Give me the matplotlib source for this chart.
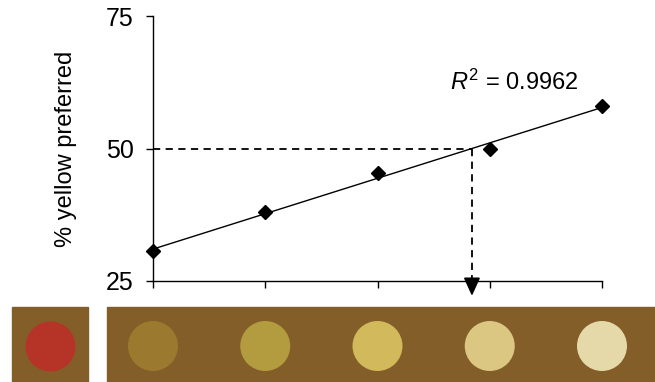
import matplotlib
matplotlib.use('Agg')
import matplotlib.pyplot as plt
import matplotlib.transforms as mtransforms
from matplotlib.patches import Rectangle
import numpy as np

plt.rcParams['font.family'] = ['Liberation Sans', 'DejaVu Sans']
plt.rcParams['mathtext.fontset'] = 'custom'
plt.rcParams['mathtext.rm'] = 'Liberation Sans'
plt.rcParams['mathtext.it'] = 'Liberation Sans:italic'

# data
x_pos = [1, 2, 3, 4, 5]
pct_yellow = [30.6, 38.0, 45.3, 50.0, 58.0]
y_ticks = [25, 50, 75]
target = 50
r2_label = r'$R^{2}$ = 0.9962'
reference_color = '#b53427'
swatch_colors = ['#9b7a30', '#b39b3f', '#d2b95b', '#dbc781', '#e5d8a9']
strip_color = '#845e28'

W, H = 655, 382
fig = plt.figure(figsize=(W / 100, H / 100), dpi=100)
ax = fig.add_axes([153 / W, 1 - 281 / H, (602 - 153) / W, (281 - 16) / H])

slope, intercept = np.polyfit(x_pos, pct_yellow, 1)
fit_x = np.array([x_pos[0], x_pos[-1]])
ax.plot(fit_x, slope * fit_x + intercept, color='black', lw=1.0, zorder=2)
ax.plot(x_pos, pct_yellow, 'D', color='black', ms=7.5, clip_on=False, zorder=3)

# dashed guide to the matching colour
x_cross = (target - intercept) / slope
ax.plot([x_pos[0], x_cross], [target, target], color='black', lw=1.3, ls=(0, (4, 3)), zorder=1)
ax.plot([x_cross, x_cross], [target, 26.5], color='black', lw=1.3, ls=(0, (4, 3)), clip_on=False, zorder=1)
ax.annotate('', xy=(x_cross, 22.2), xytext=(x_cross, 26.0), annotation_clip=False,
            arrowprops=dict(arrowstyle='-|>,head_length=1.1,head_width=0.5', color='black', lw=1.3,
                            shrinkA=0, shrinkB=0))

ax.set_xlim(1, 5)
ax.set_ylim(25, 75)
ax.set_xticks(x_pos)
ax.set_xticklabels([])
ax.set_yticks(y_ticks)
ax.tick_params(axis='y', length=5, width=1, pad=9, labelsize=18)
ax.tick_params(axis='x', length=5, width=1)
for side in ['top', 'right']:
    ax.spines[side].set_visible(False)
for side in ['left', 'bottom']:
    ax.spines[side].set_linewidth(1.0)
ax.set_ylabel('% yellow preferred', fontsize=17, labelpad=21)
ax.text(3.65, 62.5, r2_label, fontsize=17, ha='left', va='center')

# colour strip underneath
fig.patches.append(Rectangle((12 / W, 0), (88 - 12) / W, (H - 307) / H,
                             transform=fig.transFigure, color=strip_color, zorder=-1))
fig.patches.append(Rectangle((107 / W, 0), (W - 107) / W, (H - 307) / H,
                             transform=fig.transFigure, color=strip_color, zorder=-1))
strip_y = 1 - 346 / H
trans = mtransforms.blended_transform_factory(ax.transData, fig.transFigure)
ax.scatter(x_pos, [strip_y] * len(x_pos), s=36 ** 2, c=swatch_colors, transform=trans,
           clip_on=False, linewidths=0, zorder=5)
ax.scatter([50 / W], [strip_y], s=36 ** 2, c=reference_color, transform=fig.transFigure,
           clip_on=False, linewidths=0, zorder=5)

fig.savefig('out.png', dpi=100)
